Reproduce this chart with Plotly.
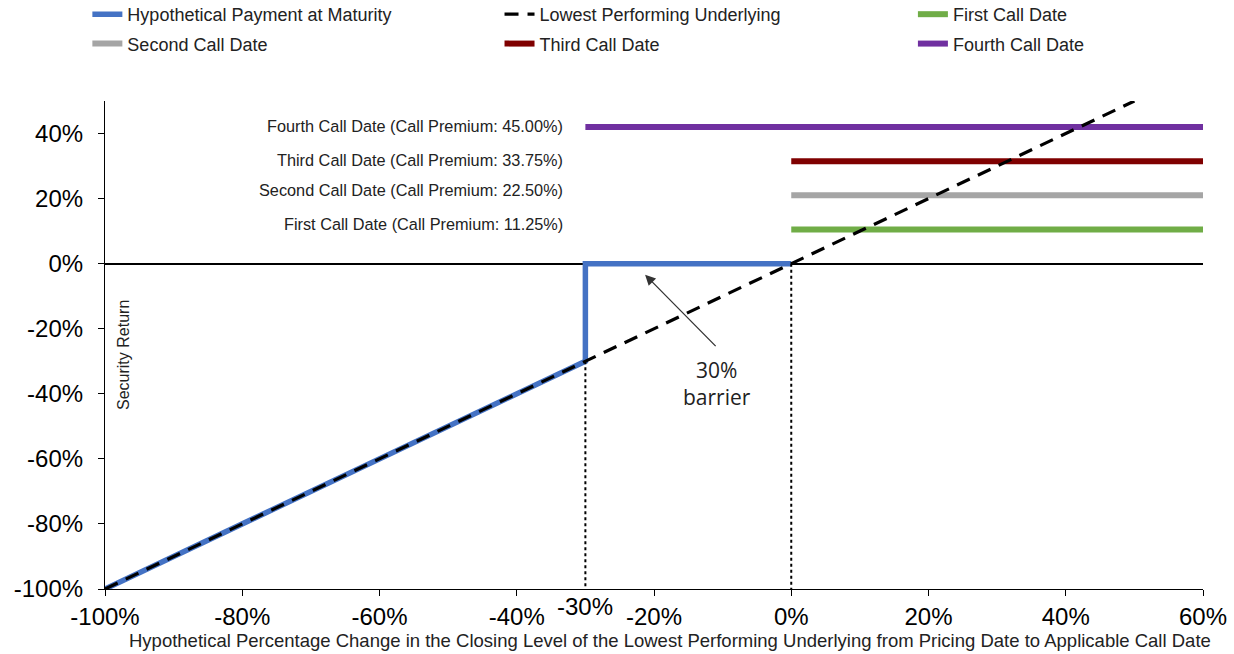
import plotly.graph_objects as go

# ---------------- data ----------------
under_x = [-100, 50]
under_y = [-100, 50]

pay_x = [-100, -30, -30, 0]
pay_y = [-100, -30, 0, 0]

barrier = -30

call_names = ["First Call Date", "Second Call Date", "Third Call Date", "Fourth Call Date"]
call_premiums = [11.25, 22.50, 33.75, 45.00]
call_levels = [10.5, 21.0, 31.5, 42.0]
call_start = [0, 0, 0, -30]
call_end = [60, 60, 60, 60]
call_colors = ["#70AD47", "#A5A5A5", "#7F0000", "#7030A0"]
call_label_y = [12.3, 22.5, 32.0, 42.2]

x_ticks = [-100, -80, -60, -40, -20, 0, 20, 40, 60]
y_ticks = [-100, -80, -60, -40, -20, 0, 20, 40]

x_title = ("Hypothetical Percentage Change in the Closing Level of the Lowest Performing "
           "Underlying from Pricing Date to Applicable Call Date")

FONT = "Liberation Sans, Arial, sans-serif"

fig = go.Figure()

# call date lines
legend_map = {"First Call Date": "legend3", "Second Call Date": "legend",
              "Third Call Date": "legend2", "Fourth Call Date": "legend3"}
rank_map = {"First Call Date": 1, "Second Call Date": 2, "Third Call Date": 2, "Fourth Call Date": 2}
for name, lvl, x0, x1, col in zip(call_names, call_levels, call_start, call_end, call_colors):
    fig.add_trace(go.Scatter(
        x=[x0, x1], y=[lvl, lvl], mode="lines", name=name,
        line=dict(color=col, width=6),
        legend=legend_map[name], legendrank=rank_map[name], legendgroup=name,
    ))

# hypothetical payment
fig.add_trace(go.Scatter(
    x=pay_x, y=pay_y, mode="lines", name="Hypothetical Payment at Maturity",
    line=dict(color="#4472C4", width=5.5), legend="legend", legendrank=1,
    legendgroup="pay",
))

# lowest performing underlying
fig.add_trace(go.Scatter(
    x=under_x, y=under_y, mode="lines", name="Lowest Performing Underlying",
    line=dict(color="black", width=3.2, dash="14px,9px"), legend="legend2", legendrank=1,
    legendgroup="under",
))

# dotted verticals
fig.add_trace(go.Scatter(
    x=[barrier, barrier], y=[barrier, -100], mode="lines", showlegend=False,
    line=dict(color="black", width=2, dash="dot"), hoverinfo="skip",
))
fig.add_trace(go.Scatter(
    x=[0, 0], y=[0, -100], mode="lines", showlegend=False,
    line=dict(color="black", width=2, dash="dot"), hoverinfo="skip",
))

# annotations
ann = []
for name, prem, ly in zip(call_names, call_premiums, call_label_y):
    ann.append(dict(
        x=-33.0, y=ly, xref="x", yref="y", xanchor="right", yanchor="middle",
        text=f"{name} (Call Premium: {prem:.2f}%)", showarrow=False,
        font=dict(family=FONT, size=16.3, color="#222222"),
    ))

ann.append(dict(
    x=-97.2, y=-28, xref="x", yref="y", text="Security Return", textangle=-90,
    showarrow=False, font=dict(family=FONT, size=16, color="#222222"),
))

ann.append(dict(
    x=barrier, y=0, xref="x", yref="paper", yanchor="top", yshift=-2,
    text=f"{barrier}%", showarrow=False, font=dict(family=FONT, size=24, color="black"),
))

# barrier arrow
ann.append(dict(
    x=-21.3, y=-3.4, ax=-10.8, ay=-25.8, xref="x", yref="y", axref="x", ayref="y",
    text="", showarrow=True, arrowhead=2, arrowsize=1.6, arrowwidth=1.3, arrowcolor="#333333",
))
ann.append(dict(
    x=-10.8, y=-27.7, xref="x", yref="y", xanchor="center", yanchor="top",
    text="30%<br>barrier", showarrow=False,
    font=dict(family="Open Sans, sans-serif", size=21, color="#222222"),
))

# x axis title
ann.append(dict(
    x=0.5146, y=0, xref="paper", yref="paper", xanchor="center", yanchor="middle",
    yshift=-51, text=x_title, showarrow=False,
    font=dict(family=FONT, size=18.5, color="#222222"),
))

legend_common = dict(
    orientation="v", xref="container", yref="paper", xanchor="left", yanchor="top",
    font=dict(family=FONT, size=18, color="#222222"), tracegroupgap=3,
    bgcolor="rgba(0,0,0,0)", itemclick=False, itemdoubleclick=False,
)
LEG_Y = 1.2152

fig.update_layout(
    width=1234, height=654,
    margin=dict(l=105, r=31, t=101, b=65, autoexpand=False),
    paper_bgcolor="white", plot_bgcolor="white",
    annotations=ann,
    legend=dict(x=0.0708, y=LEG_Y, **legend_common),
    legend2=dict(x=0.4048, y=LEG_Y, **legend_common),
    legend3=dict(x=0.7398, y=LEG_Y, **legend_common),
    xaxis=dict(
        range=[-100, 60], tickvals=x_ticks, ticktext=[f"{v}%" for v in x_ticks],
        showgrid=False, zeroline=False, showline=True, linecolor="black", linewidth=1.2,
        ticks="outside", ticklen=6, tickwidth=1.2, tickcolor="black", tickangle=0,
        tickfont=dict(family=FONT, size=24, color="black"),
        automargin=False,
    ),
    yaxis=dict(
        range=[-100, 50], tickvals=y_ticks, ticktext=[f"{v}%" for v in y_ticks],
        showgrid=False, zeroline=True, zerolinecolor="black", zerolinewidth=1.5,
        showline=True, linecolor="black", linewidth=1.2,
        ticks="outside", ticklen=6, tickwidth=1.2, tickcolor="black",
        tickfont=dict(family=FONT, size=24, color="black"), ticklabelstandoff=10,
        automargin=False,
    ),
)

fig.write_html(
    "out.html",
    config={"displayModeBar": False},
    post_script="document.body.style.margin='0';document.body.style.overflow='hidden';",
)
